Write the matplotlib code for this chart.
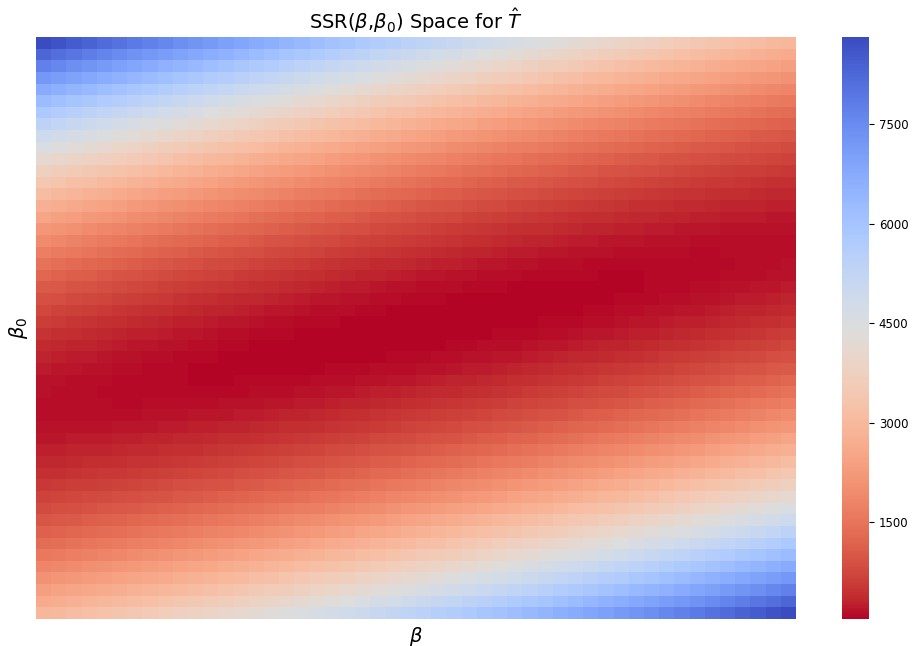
import numpy as np
import matplotlib
matplotlib.use('Agg')
import matplotlib.pyplot as plt
import seaborn as sns

# observed points used for the fit (T-hat against x)
x_obs = [1, 2, 3, 4, 5]
t_hat = [14.4, 10.4, 14.8, 21.6, 18.8]

# grid of candidate parameters
betas = np.linspace(-1.0, 5.0, 50)
beta0s = np.linspace(-22.7, 42.7, 50)

cbar_ticks = [1500, 3000, 4500, 6000, 7500]

# sum of squared residuals for every (beta0, beta) pair
ssr = np.zeros((len(beta0s), len(betas)))
for i, b0 in enumerate(beta0s):
    for j, b in enumerate(betas):
        ssr[i, j] = sum((t - (b * xv + b0)) ** 2 for xv, t in zip(x_obs, t_hat))

fig = plt.figure(figsize=(9.14, 6.46), dpi=100)
ax = fig.add_axes([36 / 914, 1 - 619 / 646, 760 / 914, 582 / 646])
cax = fig.add_axes([842 / 914, 1 - 619 / 646, 27 / 914, 582 / 646])

sns.heatmap(ssr, cmap='coolwarm_r', ax=ax, cbar_ax=cax,
            xticklabels=False, yticklabels=False,
            cbar_kws={'ticks': cbar_ticks})
cax.tick_params(labelsize=8.5)

ax.set_title(r'SSR($\beta$,$\beta_0$) Space for $\hat{T}$', fontsize=14)
ax.set_xlabel(r'$\beta$', fontsize=14)
ax.set_ylabel(r'$\beta_0$', fontsize=14)

fig.savefig('out.png', dpi=100)
